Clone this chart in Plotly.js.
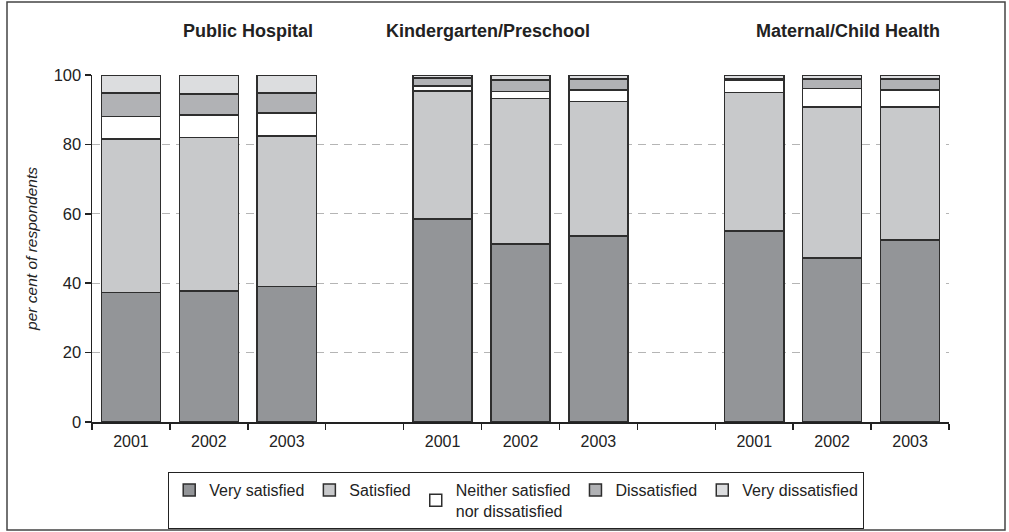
<!DOCTYPE html>
<html>
<head>
<meta charset="utf-8">
<script src="https://cdn.plot.ly/plotly-3.0.1.min.js"></script>
<style>
html,body{margin:0;padding:0;background:#fff;}
#chart{width:1009px;height:532px;}
</style>
</head>
<body>
<div id="chart"></div>
<script>
// ---- data ----
var groups = ["Public Hospital", "Kindergarten/Preschool", "Maternal/Child Health"];
var years = ["2001", "2002", "2003"];
var seriesNames = ["Very satisfied", "Satisfied", "Neither satisfied<br>nor dissatisfied", "Dissatisfied", "Very dissatisfied"];
// values per bar, ordered group by group, year by year
var verySatisfied    = [37.3, 37.8, 39.0, 58.5, 51.3, 53.6, 55.0, 47.3, 52.4];
var satisfied        = [44.3, 44.2, 43.4, 36.9, 42.0, 38.8, 39.9, 43.5, 38.4];
var neither          = [6.4, 6.5, 6.6, 1.4, 1.9, 3.3, 3.7, 5.3, 4.9];
var dissatisfied     = [6.8, 6.0, 5.8, 2.4, 3.3, 3.1, 0.4, 2.7, 3.2];
var veryDissatisfied = [5.2, 5.5, 5.2, 0.8, 1.5, 1.2, 1.0, 1.2, 1.1];
var yTicks = [0, 20, 40, 60, 80, 100];

// ---- build positions (one empty slot between groups) ----
var xPos = [], tickText = [];
groups.forEach(function (g, gi) {
  years.forEach(function (yr, yi) {
    xPos.push(gi * (years.length + 1) + yi);
    tickText.push(yr);
  });
});
var nSlots = groups.length * (years.length + 1) - 1;
var boundaries = [];
for (var b = 0; b <= nSlots; b++) boundaries.push(b - 0.5);

var seriesValues = [verySatisfied, satisfied, neither, dissatisfied, veryDissatisfied];
var colors = ["#939598", "#c8c9cb", "#ffffff", "#b1b2b5", "#dcdddf"];

var traces = seriesValues.map(function (vals, i) {
  return {
    type: "bar",
    name: seriesNames[i],
    x: xPos,
    y: vals,
    width: 0.76,
    marker: {color: colors[i], line: {color: "#2e2e2e", width: 1.5}},
    hoverinfo: "skip"
  };
});

var FONT = "Liberation Sans, Arial, sans-serif";
var titleFont = {size: 18, color: "#222", family: FONT};

var annotations = [
  {text: "<b>" + groups[0] + "</b>", xref: "paper", yref: "paper", x: (181 - 92) / 857, y: (422 - 31) / 347, xanchor: "left", yanchor: "middle", showarrow: false, font: titleFont},
  {text: "<b>" + groups[1] + "</b>", xref: "paper", yref: "paper", x: (384 - 92) / 857, y: (422 - 31) / 347, xanchor: "left", yanchor: "middle", showarrow: false, font: titleFont},
  {text: "<b>" + groups[2] + "</b>", xref: "paper", yref: "paper", x: (754 - 92) / 857, y: (422 - 31) / 347, xanchor: "left", yanchor: "middle", showarrow: false, font: titleFont}
];

var layout = {
  width: 1009,
  height: 532,
  margin: {l: 92, r: 60, t: 75, b: 110, autoexpand: false},
  paper_bgcolor: "#ffffff",
  plot_bgcolor: "#ffffff",
  barmode: "stack",
  font: {family: FONT, color: "#222", size: 16},
  showlegend: true,
  legend: {
    orientation: "h",
    x: 0.495, xanchor: "center",
    y: (422 - 472) / 347, yanchor: "top",
    bordercolor: "#222", borderwidth: 1,
    font: {size: 16, family: FONT, color: "#222"},
    traceorder: "normal",
    itemwidth: 30
  },
  xaxis: {
    range: [-0.5, nSlots - 0.5],
    tickmode: "array",
    tickvals: xPos,
    ticktext: tickText,
    ticks: "",
    showgrid: false,
    zeroline: false,
    showline: true,
    linecolor: "#222",
    linewidth: 1.5,
    tickfont: {size: 16, color: "#222"},
    ticklabelstandoff: 4,
    minor: {tickmode: "array", tickvals: boundaries, ticks: "outside", ticklen: 6, tickcolor: "#222", tickwidth: 1.5, showgrid: false},
    fixedrange: true
  },
  yaxis: {
    range: [0, 100],
    tickmode: "array",
    tickvals: yTicks,
    ticks: "outside",
    ticklen: 6,
    tickwidth: 1.5,
    tickcolor: "#222",
    showline: true,
    linecolor: "#222",
    linewidth: 1.5,
    showgrid: true,
    gridcolor: "#b5b5b5",
    griddash: "8px,6px",
    gridwidth: 1,
    zeroline: false,
    tickfont: {size: 16.5, color: "#222"},
    title: {text: "<i>per cent of respondents</i>", font: {size: 15.5, color: "#222"}, standoff: 12},
    fixedrange: true
  },
  annotations: annotations,
  shapes: [
    {type: "rect", xref: "paper", yref: "paper", x0: (7 - 92) / 857, x1: (1005 - 92) / 857, y0: (422 - 530) / 347, y1: (422 - 2) / 347, line: {color: "#444", width: 1.5}, fillcolor: "rgba(0,0,0,0)", layer: "below"}
  ]
};

Plotly.newPlot("chart", traces, layout, {displayModeBar: false, staticPlot: true});
</script>
</body>
</html>
